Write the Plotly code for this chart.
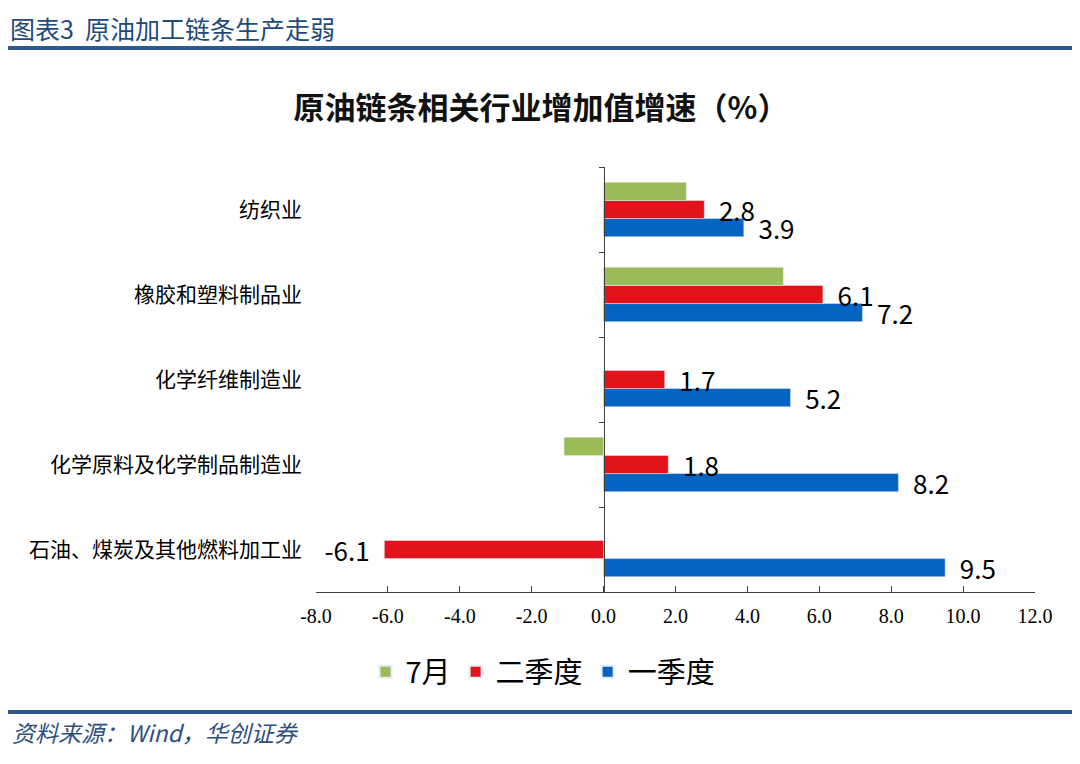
import plotly.graph_objects as go

# Data (top row first)
industries = ['纺织业', '橡胶和塑料制品业', '化学纤维制造业', '化学原料及化学制品制造业', '石油、煤炭及其他燃料加工业']
jul = [2.3, 5.0, None, -1.1, None]
q2 = [2.8, 6.1, 1.7, 1.8, -6.1]
q1 = [3.9, 7.2, 5.2, 8.2, 9.5]
x_ticks = [-8, -6, -4, -2, 0, 2, 4, 6, 8, 10, 12]

GREEN = '#9BBB59'
RED = '#E3131B'
BLUE = '#0563C1'
NAVY = '#2E5A8E'
CJK = 'Noto Sans CJK SC'

# plot area (figure pixels; the page adds an 8px body margin)
L, R, T, B = 308, 53, 159, 180
PW, PH = 1080 - L - R, 764 - T - B


def px_x(px):
    return (px - L) / PW


def px_y(py):
    return (764 - B - py) / PH


def labels(vals):
    # a small gap between bar end and its label
    return [('  %.1f' % v if v >= 0 else '%.1f  ' % v) for v in vals]


fig = go.Figure()

# plotly stacks grouped horizontal bars bottom-up, so add blue first
fig.add_trace(go.Bar(y=industries, x=q1, name='一季度', orientation='h',
                     marker_color=BLUE, text=labels(q1), textposition='outside',
                     textfont=dict(size=26, color='black', family=CJK),
                     constraintext='none', cliponaxis=False, legendrank=3))
fig.add_trace(go.Bar(y=industries, x=q2, name='二季度', orientation='h',
                     marker_color=RED, text=labels(q2), textposition='outside',
                     textfont=dict(size=26, color='black', family=CJK),
                     constraintext='none', cliponaxis=False, legendrank=2))
fig.add_trace(go.Bar(y=industries, x=jul, name='7月', orientation='h',
                     marker_color=GREEN, legendrank=1))

# invisible trace carrying the category axis drawn at x = 0
fig.add_trace(go.Scatter(y=industries, x=[0] * len(industries), yaxis='y2',
                         mode='markers', marker=dict(opacity=0),
                         showlegend=False, hoverinfo='skip'))

x_min, x_max = -8, 12
zero_pos = (0 - x_min) / (x_max - x_min)

fig.update_layout(
    width=1080, height=764,
    margin=dict(l=L, r=R, t=T, b=B),
    paper_bgcolor='white', plot_bgcolor='white',
    barmode='group', bargap=0.36, bargroupgap=0,
    font=dict(family=CJK, color='black'),
    title=dict(text='<b>原油链条相关行业增加值增速（%）</b>', x=533 / 1080,
               xanchor='center', y=1 - 100 / 764, yanchor='middle',
               font=dict(size=31, family=CJK, color='#111111')),
    xaxis=dict(range=[x_min, x_max], tickvals=x_ticks,
               ticktext=['%.1f' % t for t in x_ticks],
               showgrid=False, zeroline=False, showline=True,
               linecolor='#404040', linewidth=1.2, ticks='inside',
               ticklen=6, tickcolor='#404040', ticklabelstandoff=6,
               tickfont=dict(family='Liberation Serif', size=20, color='black')),
    yaxis=dict(categoryorder='array', categoryarray=industries[::-1],
               showgrid=False, zeroline=False, showline=False, ticks='',
               ticklabelstandoff=13,
               tickfont=dict(size=21, color='black', family=CJK),
               range=[-0.5, len(industries) - 0.5]),
    yaxis2=dict(overlaying='y', anchor='free', position=zero_pos, side='left',
                categoryorder='array', categoryarray=industries[::-1],
                range=[-0.5, len(industries) - 0.5],
                showticklabels=False, showgrid=False, zeroline=False,
                showline=True, linecolor='#404040', linewidth=1.2,
                ticks='outside', tickson='boundaries', ticklen=5,
                tickcolor='#404040'),
    showlegend=True,
    legend=dict(orientation='h', x=px_x(535), xanchor='center', y=px_y(664),
                yanchor='middle', font=dict(size=29, family=CJK, color='black'),
                itemwidth=30, itemsizing='constant'),
)

# report header / footer
fig.add_shape(type='line', xref='paper', yref='paper', x0=px_x(0), x1=px_x(1080),
              y0=px_y(40), y1=px_y(40), line=dict(color=NAVY, width=4))
fig.add_shape(type='line', xref='paper', yref='paper', x0=px_x(0), x1=px_x(1080),
              y0=px_y(704), y1=px_y(704), line=dict(color=NAVY, width=4))
fig.add_annotation(text='图表3  原油加工链条生产走弱', xref='paper', yref='paper',
                   x=px_x(0), y=px_y(20), xanchor='left', yanchor='middle',
                   showarrow=False, font=dict(size=25, color='#1F4A7C', family=CJK))
fig.add_annotation(text='<i>资料来源：Wind，华创证券</i>', xref='paper', yref='paper',
                   x=px_x(2), y=px_y(724), xanchor='left', yanchor='middle',
                   showarrow=False, font=dict(size=23, color='#2E4F80', family=CJK))

fig.write_html('out.html')
